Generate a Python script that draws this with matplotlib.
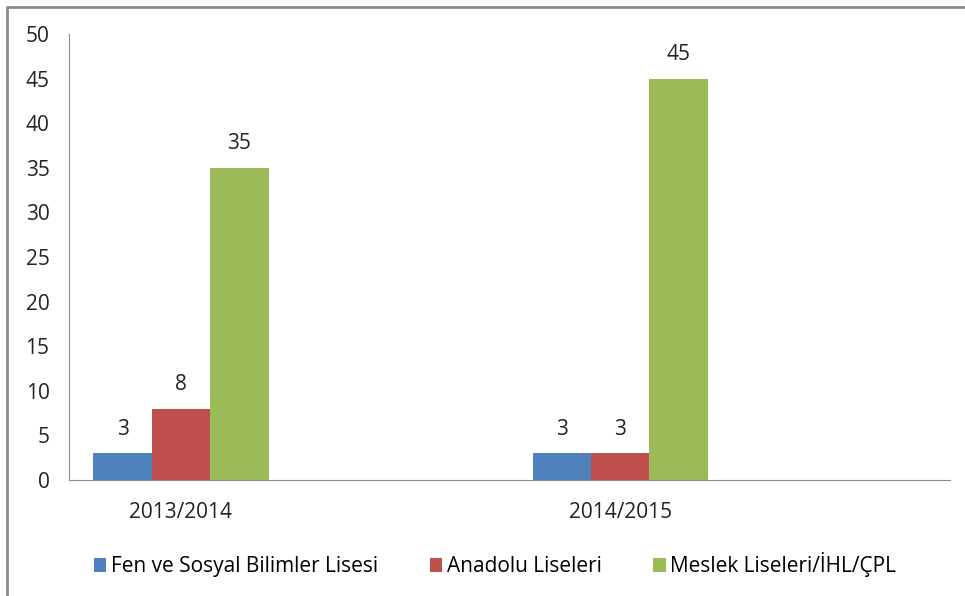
import matplotlib.pyplot as plt
from matplotlib.lines import Line2D

plt.rcParams['font.family'] = ['Open Sans', 'DejaVu Sans']

years = ['2013/2014', '2014/2015']
series = ['Fen ve Sosyal Bilimler Lisesi', 'Anadolu Liseleri', 'Meslek Liseleri/İHL/ÇPL']
fen = [3, 3]
anadolu = [8, 3]
meslek = [35, 45]
colors = ['#4F81BD', '#C0504D', '#9BBB59']

fig = plt.figure(figsize=(9.65, 5.96), dpi=100)
ax = fig.add_axes([0.0715, 0.1946, 0.9125, 0.7484])

# grey frame, only top and left edges show in the crop
fig.lines.append(Line2D([0.0073, 0.0073, 1.0], [0.0, 0.9882, 0.9882], transform=fig.transFigure,
                        color='#8c8c8c', linewidth=2))

w = 0.133
x = list(range(len(years)))
for i, (vals, name) in enumerate(zip([fen, anadolu, meslek], series)):
    pos = [xi + (i - 1) * w for xi in x]
    bars = ax.bar(pos, vals, width=w, color=colors[i], label=name)
    for b, v in zip(bars, vals):
        ax.text(b.get_x() + b.get_width() / 2, v + 1.5, str(v),
                ha='center', va='bottom', fontsize=15, color='#222222')

ax.set_xlim(-0.255, 1.75)
ax.set_ylim(0, 50)
ax.set_yticks(range(0, 51, 5))
ax.set_xticks(x)
ax.set_xticklabels(years)
ax.tick_params(axis='both', length=0, labelsize=15, colors='#222222')
ax.tick_params(axis='y', pad=14)
ax.tick_params(axis='x', pad=16)
for s in ['top', 'right']:
    ax.spines[s].set_visible(False)
for s in ['left', 'bottom']:
    ax.spines[s].set_color('#8c8c8c')

fig.legend(loc='lower center', bbox_to_anchor=(0.513, 0.0), ncol=3, frameon=False,
           fontsize=15, handlelength=0.6, handleheight=0.6, handletextpad=0.2,
           columnspacing=2.5)

fig.savefig('out.png', dpi=100)
